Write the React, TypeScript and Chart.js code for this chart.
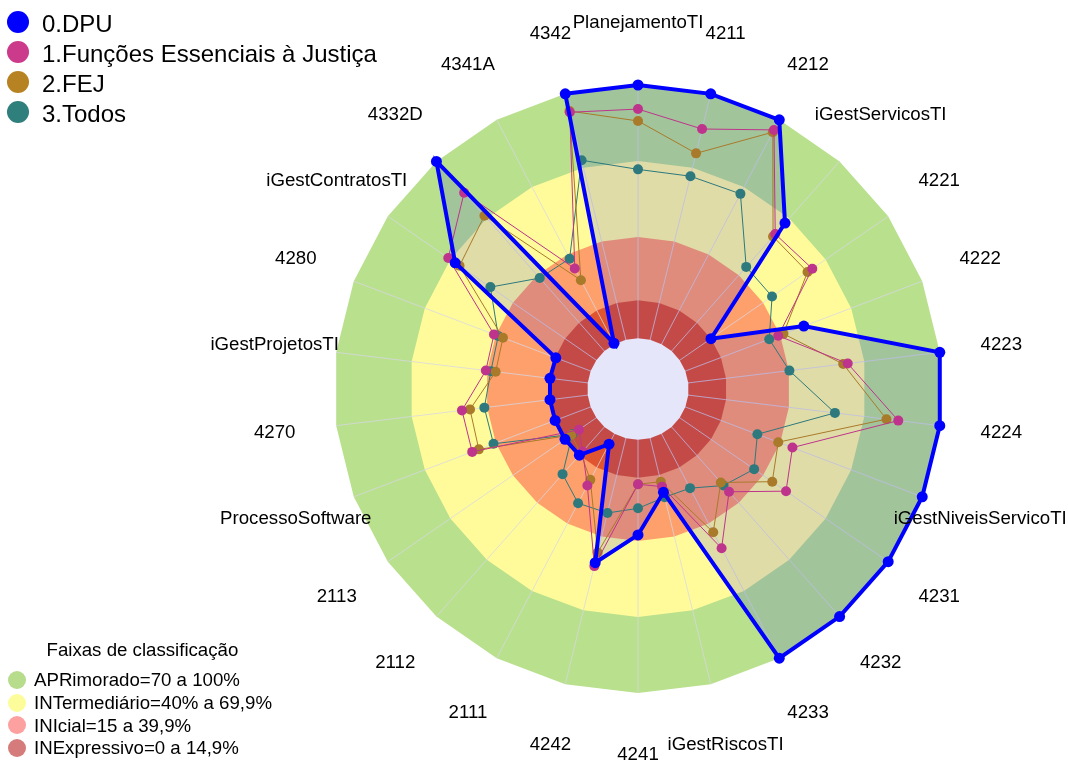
import React, { useEffect, useRef } from 'react';
import { Chart, registerables } from 'chart.js';

Chart.register(...registerables);

// ---- Data ----
const categories = [
  'PlanejamentoTI', '4211', '4212', 'iGestServicosTI', '4221', '4222', '4223', '4224',
  'iGestNiveisServicoTI', '4231', '4232', '4233', 'iGestRiscosTI', '4241', '4242',
  '2111', '2112', '2113', 'ProcessoSoftware', '4270', 'iGestProjetosTI', '4280',
  'iGestContratosTI', '4332D', '4341A', '4342',
];

const dpu = [100, 100, 100, 67.5, 15, 50, 100, 100, 100, 100, 100, 100, 22, 37.6, 50.6, 4.6, 14.9, 15, 15, 15, 15, 14.7, 67.7, 100, 0.4, 100];
const funcoesEssenciais = [90.5, 85.7, 95.5, 61.7, 63.6, 39.2, 63.4, 83.5, 45.2, 51, 34.2, 51, 19.7, 17.6, 52, 23, 13, 8.3, 50, 50, 40.5, 40.8, 71, 83.5, 33.7, 92.5];
const fej = [85.8, 75.8, 94.5, 60.4, 61.3, 41.4, 61.6, 78.8, 39.2, 44.4, 29.3, 43.9, 17.7, 17.6, 46.5, 20.5, 14, 12, 47.2, 46.8, 36.6, 37, 65.6, 71.4, 28.5, 93];
const todos = [66.7, 66.5, 67, 44.4, 44.3, 35.4, 40.2, 58.3, 30.4, 35.7, 30.9, 24.2, 24, 27.1, 30.4, 30.9, 24.9, 11.5, 41, 41.1, 38.5, 39, 50.8, 38.5, 38.1, 73];

const seriesNames = ['0.DPU', '1.Funções Essenciais à Justiça', '2.FEJ', '3.Todos'];

// classification bands (upper limits), from outer to inner
const bandLimits = [100, 70, 40, 15];
const holeValue = 0;
const bandNames = ['APRimorado=70 a 100%', 'INTermediário=40% a 69,9%', 'INIcial=15 a 39,9%', 'INExpressivo=0 a 14,9%'];
const legendTitle = 'Faixas de classificação';

// ---- Styles ----
const FONT = '"Liberation Sans", Arial, Helvetica, sans-serif';
const seriesColors = ['#0000ff', '#be348c', '#a97a2a', '#2d797d'];
const seriesLegendColors = ['#0000ff', '#cb3a8b', '#b78322', '#2f7f7c'];
const bandColors = ['#b9e08d', '#fffb9b', '#fea06b', '#e0552f'];
const bandLegendColors = ['#b6dc8c', '#fdfc9b', '#fca0a0', '#d67b7b'];
const holeColor = '#e6e6fa';
const dpuFill = 'rgba(0,0,255,0.12)';
const LABEL_GAP = 62;

const N = categories.length;
const constant = (v: number) => categories.map(() => v);

const INE_INDEX = 6;

const angleLinePlugin = {
  id: 'angleLinesOverBands',
  afterDatasetDraw(chart: any, args: any) {
    if (args.index !== INE_INDEX) return;
    const scale = chart.scales.r;
    const ctx = chart.ctx;
    ctx.save();
    ctx.strokeStyle = 'rgba(215,215,230,0.75)';
    ctx.lineWidth = 1;
    ctx.beginPath();
    for (let i = 0; i < N; i++) {
      const p = scale.getPointPositionForValue(i, scale.max);
      ctx.moveTo(scale.xCenter, scale.yCenter);
      ctx.lineTo(p.x, p.y);
    }
    ctx.stroke();
    ctx.restore();
  },
};

const labelPlugin = {
  id: 'categoryLabels',
  afterDraw(chart: any) {
    const scale = chart.scales.r;
    const ctx = chart.ctx;
    ctx.save();
    ctx.font = `18.67px ${FONT}`;
    ctx.fillStyle = '#000';
    ctx.textAlign = 'center';
    ctx.textBaseline = 'middle';
    categories.forEach((c, i) => {
      const p = scale.getPointPosition(i, scale.drawingArea + LABEL_GAP);
      ctx.fillText(c, p.x, p.y);
    });
    ctx.restore();
  },
};

function seriesDataset(label: string, data: number[], color: string, width: number, radius: number) {
  return {
    label,
    data,
    borderColor: color,
    backgroundColor: color,
    pointBackgroundColor: color,
    pointBorderColor: color,
    pointBorderWidth: 0,
    borderWidth: width,
    pointRadius: radius,
    pointHoverRadius: radius,
    fill: false,
    clip: false,
  };
}

function areaDataset(label: string, data: number[], color: string, fill: any) {
  return {
    label,
    data,
    borderWidth: 0,
    borderColor: 'rgba(0,0,0,0)',
    backgroundColor: color,
    pointRadius: 0,
    pointHoverRadius: 0,
    fill,
    clip: false,
  };
}

export default function App() {
  const canvasRef = useRef<HTMLCanvasElement | null>(null);

  useEffect(() => {
    const canvas = canvasRef.current;
    if (!canvas) return;
    const datasets: any[] = [
      seriesDataset(seriesNames[0], dpu, seriesColors[0], 4, 5.5),
      seriesDataset(seriesNames[1], funcoesEssenciais, seriesColors[1], 1, 5),
      seriesDataset(seriesNames[2], fej, seriesColors[2], 1, 5),
      seriesDataset(seriesNames[3], todos, seriesColors[3], 1, 5),
      areaDataset('DPU área', dpu, dpuFill, 'origin'),
      areaDataset('centro', constant(holeValue), holeColor, 'start'),
      areaDataset(bandNames[3], constant(bandLimits[3]), bandColors[3], 'start'),
      areaDataset(bandNames[2], constant(bandLimits[2]), bandColors[2], 'start'),
      areaDataset(bandNames[1], constant(bandLimits[1]), bandColors[1], 'start'),
      areaDataset(bandNames[0], constant(bandLimits[0]), bandColors[0], 'start'),
    ];
    const chart = new Chart(canvas, {
      type: 'radar',
      data: { labels: categories, datasets },
      options: {
        responsive: false,
        animation: false,
        events: [],
        devicePixelRatio: 1,
        layout: { padding: { left: 334, right: 126, top: 85, bottom: 67 } },
        plugins: {
          legend: { display: false },
          tooltip: { enabled: false },
          title: { display: false },
        },
        elements: { line: { tension: 0 } },
        scales: {
          r: {
            min: -20,
            max: 100,
            beginAtZero: false,
            startAngle: 0,
            ticks: { display: false },
            grid: { display: false },
            angleLines: { display: false },
            pointLabels: { display: false },
          },
        },
      } as any,
      plugins: [angleLinePlugin, labelPlugin],
    });
    return () => chart.destroy();
  }, []);

  const text = (extra: any) => ({
    position: 'absolute' as const,
    fontFamily: FONT,
    whiteSpace: 'nowrap' as const,
    color: '#000',
    margin: 0,
    ...extra,
  });

  const circle = (cx: number, cy: number, r: number, color: string) => (
    <div
      style={{
        position: 'absolute',
        left: cx - r,
        top: cy - r,
        width: 2 * r,
        height: 2 * r,
        borderRadius: '50%',
        background: color,
      }}
    />
  );

  const bandRowY = [680, 702.7, 725.3, 748];

  return (
    <div style={{ position: 'absolute', left: 0, top: 0, width: 1068, height: 760, background: '#fff', overflow: 'hidden' }}>
      <canvas ref={canvasRef} width={1068} height={760} style={{ position: 'absolute', left: 0, top: 0, width: 1068, height: 760 }} />
      {seriesNames.map((name, i) => (
        <React.Fragment key={name}>
          {circle(18, 22 + 30 * i, 11, seriesLegendColors[i])}
          <div style={text({ left: 42, top: 9 + 30 * i, fontSize: 24, lineHeight: '30px' })}>{name}</div>
        </React.Fragment>
      ))}
      <div style={text({ left: 46.5, top: 638.5, fontSize: 18.67, lineHeight: '22px' })}>{legendTitle}</div>
      {bandNames.map((name, i) => (
        <React.Fragment key={name}>
          {circle(17, bandRowY[i], 9, bandLegendColors[i])}
          <div style={text({ left: 34, top: bandRowY[i] - 10.8, fontSize: 18.67, lineHeight: '22px' })}>{name}</div>
        </React.Fragment>
      ))}
    </div>
  );
}
